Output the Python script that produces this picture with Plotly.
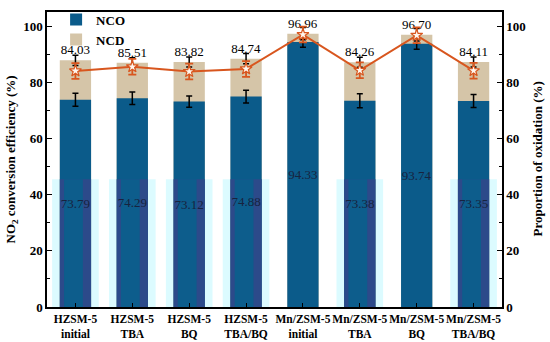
import plotly.graph_objects as go

categories = ["HZSM-5<br>initial", "HZSM-5<br>TBA", "HZSM-5<br>BQ", "HZSM-5<br>TBA/BQ",
              "Mn/ZSM-5<br>initial", "Mn/ZSM-5<br>TBA", "Mn/ZSM-5<br>BQ", "Mn/ZSM-5<br>TBA/BQ"]
nco = [73.79, 74.29, 73.12, 74.88, 94.33, 73.38, 93.74, 73.35]
nco_err = [2.3, 2.2, 2.0, 2.3, 1.9, 2.5, 2.0, 2.3]
total = [87.8, 86.9, 87.2, 88.4, 97.3, 87.1, 96.9, 87.2]
total_err = [1.8, 1.8, 1.8, 1.8, 2.2, 1.8, 2.2, 1.8]
oxidation = [84.03, 85.51, 83.82, 84.74, 96.96, 84.26, 96.70, 84.11]
ox_err = [2.8, 2.8, 2.8, 2.8, 2.8, 2.8, 2.8, 2.8]
ox_labels = ["84.03", "85.51", "83.82", "84.74", "96.96", "84.26", "96.70", "84.11"]
nco_labels = ["73.79", "74.29", "73.12", "74.88", "94.33", "73.38", "93.74", "73.35"]
# light boxes / stripes visible in the lower part of the reference picture
patch = [45.5, 45.5, 45.5, 45.5, 0, 45.5, 0, 45.5]

BLUE = "#0b5b8a"
TAN = "#d5c5a8"
ORANGE = "#d8561e"
SERIF = "Liberation Serif"

fig = go.Figure()

fig.add_trace(go.Bar(x=categories, y=patch, width=0.82, marker=dict(color="#dcfbff", line=dict(width=0)),
                     showlegend=False, hoverinfo="skip"))

fig.add_trace(go.Bar(x=categories, y=total, width=0.55, name="NCD",
                     marker=dict(color=TAN, line=dict(width=0)),
                     error_y=dict(type="data", array=total_err, visible=True, color="black", thickness=1.5, width=3),
                     text=ox_labels, textposition="outside", constraintext="none", cliponaxis=False,
                     textfont=dict(family=SERIF, size=13, color="black"),
                     legendrank=2))

fig.add_trace(go.Bar(x=categories, y=nco, width=0.55, name="NCO",
                     marker=dict(color=BLUE, line=dict(width=0)),
                     error_y=dict(type="data", array=nco_err, visible=True, color="black", thickness=1.5, width=3),
                     legendrank=1))

fig.add_trace(go.Bar(x=categories, y=patch, width=0.55, marker=dict(color="#2c4a8a", line=dict(width=0)),
                     showlegend=False, hoverinfo="skip"))
fig.add_trace(go.Bar(x=categories, y=patch, width=0.33, offset=-0.2,
                     marker=dict(color="#0d5d8c", line=dict(width=0)),
                     showlegend=False, hoverinfo="skip"))

fig.add_trace(go.Bar(x=categories, y=nco, width=0.55, marker=dict(color="rgba(0,0,0,0)", line=dict(width=0)),
                     text=nco_labels, textposition="inside", insidetextanchor="middle", constraintext="none",
                     textangle=0, textfont=dict(family=SERIF, size=13, color="#17233f"),
                     showlegend=False, hoverinfo="skip"))

fig.add_trace(go.Scatter(x=categories, y=oxidation, yaxis="y2", mode="lines+markers",
                         line=dict(color=ORANGE, width=2),
                         marker=dict(symbol="star", size=9, color="#fff6ee", line=dict(color=ORANGE, width=1.2)),
                         error_y=dict(type="data", array=ox_err, visible=True, color=ORANGE, thickness=1.8, width=4),
                         showlegend=False))

axis_font = dict(family=SERIF, size=13, color="black", weight="bold")

fig.update_layout(
    width=550, height=342,
    margin=dict(l=47, r=48, t=5, b=35),
    barmode="overlay",
    plot_bgcolor="white", paper_bgcolor="white",
    font=dict(family=SERIF, color="black"),
    xaxis=dict(range=[-0.5, 7.5], showline=True, linecolor="black", linewidth=1.5, mirror=True,
               ticks="inside", ticklen=4, tickwidth=1.2, tickcolor="black", tickangle=0,
               tickfont=dict(family=SERIF, size=11.5, color="black", weight="bold"),
               showgrid=False, zeroline=False, automargin=False),
    yaxis=dict(range=[0, 105], tickvals=[0, 20, 40, 60, 80, 100], showline=True, linecolor="black",
               linewidth=1.5, ticks="inside", ticklen=5, tickwidth=1.2, tickcolor="black",
               minor=dict(ticks="inside", ticklen=3, dtick=10, tickcolor="black", tickwidth=1.2),
               tickfont=axis_font, showgrid=False, zeroline=False, automargin=False),
    yaxis2=dict(range=[0, 105], tickvals=[0, 20, 40, 60, 80, 100], overlaying="y", side="right",
                showline=True, linecolor="black", linewidth=1.5, ticks="inside", ticklen=5, tickwidth=1.2,
                tickcolor="black",
                minor=dict(ticks="inside", ticklen=3, dtick=10, tickcolor="black", tickwidth=1.2),
                tickfont=axis_font, showgrid=False, zeroline=False, automargin=False),
    legend=dict(x=0.02, y=1.025, xanchor="left", yanchor="top", bgcolor="rgba(0,0,0,0)",
                font=dict(family=SERIF, size=13, color="black", weight="bold"),
                traceorder="normal", tracegroupgap=0, itemwidth=30),
    annotations=[
        dict(text="NO<sub>2</sub> conversion efficiency (%)", xref="paper", yref="paper", x=-0.077, y=0.5,
             textangle=-90, showarrow=False, font=axis_font, xanchor="center", yanchor="middle"),
        dict(text="Proportion of oxidation (%)", xref="paper", yref="paper", x=1.077, y=0.5,
             textangle=-90, showarrow=False, font=axis_font, xanchor="center", yanchor="middle"),
    ],
)

fig.write_html("out.html", config={"displayModeBar": False},
               post_script="document.body.style.margin='0';document.body.style.overflow='hidden';")
